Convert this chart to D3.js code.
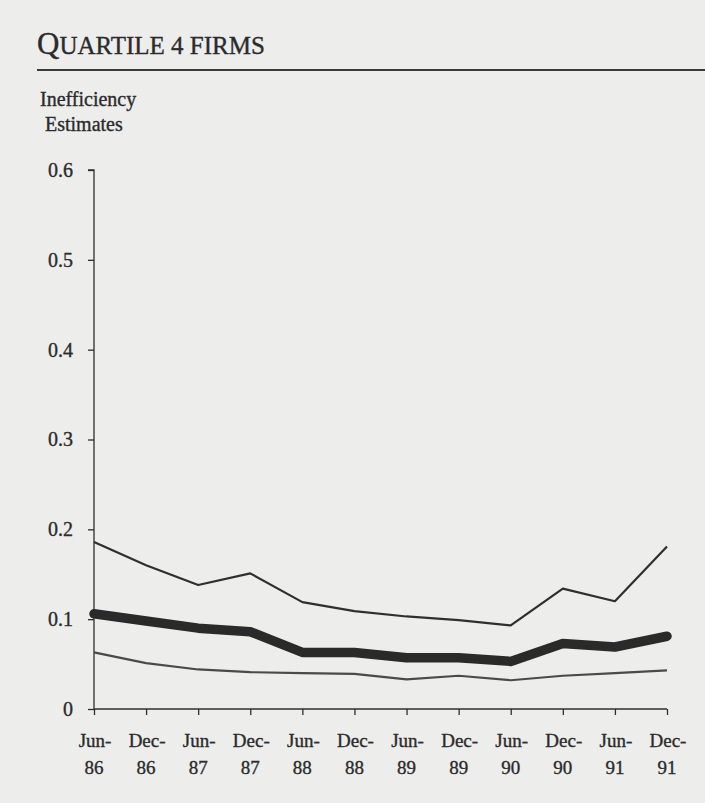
<!DOCTYPE html>
<html>
<head>
<meta charset="utf-8">
<script src="https://cdn.jsdelivr.net/npm/d3@7"></script>
<style>
  html, body { margin: 0; padding: 0; background: #ededeb; }
  svg { display: block; }
  text { font-family: "Liberation Serif", "Times New Roman", serif; fill: #2b2b2b; stroke: #2b2b2b; stroke-width: 0.35px; }
</style>
</head>
<body>
<svg id="chart" width="705" height="803"></svg>
<script>
// Half-year periods, Jun-86 through Dec-91
const periodMonths = ["Jun-", "Dec-", "Jun-", "Dec-", "Jun-", "Dec-", "Jun-", "Dec-", "Jun-", "Dec-", "Jun-", "Dec-"];
const periodYears  = ["86", "86", "87", "87", "88", "88", "89", "89", "90", "90", "91", "91"];

// Inefficiency estimates for quartile 4 firms
const upperBand = [0.186, 0.160, 0.138, 0.151, 0.119, 0.109, 0.103, 0.099, 0.093, 0.134, 0.120, 0.181];
const estimate  = [0.106, 0.098, 0.090, 0.086, 0.063, 0.063, 0.057, 0.057, 0.053, 0.073, 0.069, 0.081];
const lowerBand = [0.063, 0.051, 0.044, 0.041, 0.040, 0.039, 0.033, 0.037, 0.032, 0.037, 0.040, 0.043];

const yTicks = [0, 0.1, 0.2, 0.3, 0.4, 0.5, 0.6];

const svg = d3.select("#chart");
const ink = "#2f2f2f";

// Title with small-caps styling
const title = svg.append("text").attr("x", 37).attr("y", 54);
title.append("tspan").attr("font-size", 31).text("Q");
title.append("tspan").attr("font-size", 25).text("UARTILE 4 FIRMS");

svg.append("line")
  .attr("x1", 37).attr("x2", 705)
  .attr("y1", 70).attr("y2", 70)
  .attr("stroke", "#3a3a3a").attr("stroke-width", 2);

// Axis title
svg.append("text").attr("x", 40).attr("y", 106).attr("font-size", 20).text("Inefficiency");
svg.append("text").attr("x", 45).attr("y", 131).attr("font-size", 20).text("Estimates");

// Scales
const idx = d3.range(periodMonths.length);
const x = d3.scalePoint().domain(idx).range([94, 667]);
const y = d3.scaleLinear().domain([0, 0.6]).range([709, 170]);

// Y axis
const yAxis = svg.append("g")
  .attr("transform", "translate(94,0)")
  .call(d3.axisLeft(y).tickValues(yTicks).tickSize(6).tickPadding(15)
    .tickFormat(d => d === 0 ? "0" : d3.format(".1f")(d)));
yAxis.select(".domain").attr("stroke", ink).attr("stroke-width", 1.3).attr("d", `M-6,${y(0.6)}H0V${y(0)}`);
yAxis.selectAll(".tick line").attr("stroke", ink).attr("stroke-width", 1.3);
yAxis.selectAll(".tick text")
  .attr("font-family", "Liberation Serif, serif")
  .attr("font-size", 20).attr("fill", "#2b2b2b");

// X axis
const xAxis = svg.append("g")
  .attr("transform", `translate(0,${y(0)})`)
  .call(d3.axisBottom(x).tickSize(6).tickFormat(""));
xAxis.select(".domain").attr("stroke", ink).attr("stroke-width", 1.3).attr("d", `M${x(0)},0H${x(11)}`);
xAxis.selectAll(".tick line").attr("stroke", ink).attr("stroke-width", 1.3);

const xLabels = svg.append("g").attr("font-size", 19).attr("text-anchor", "middle");
xLabels.selectAll("text.m").data(idx).join("text")
  .attr("class", "m")
  .attr("x", i => x(i) + 1).attr("y", 747)
  .text(i => periodMonths[i]);
xLabels.selectAll("text.yr").data(idx).join("text")
  .attr("class", "yr")
  .attr("x", i => x(i)).attr("y", 774)
  .text(i => periodYears[i]);

// Series lines
const line = d3.line().x((d, i) => x(i)).y(d => y(d));

svg.append("path").datum(lowerBand)
  .attr("d", line).attr("fill", "none")
  .attr("stroke", "#4a4a4a").attr("stroke-width", 2.2)
  .attr("stroke-linejoin", "round");

svg.append("path").datum(upperBand)
  .attr("d", line).attr("fill", "none")
  .attr("stroke", "#2f2f2f").attr("stroke-width", 2.2)
  .attr("stroke-linejoin", "round");

svg.append("path").datum(estimate)
  .attr("d", line).attr("fill", "none")
  .attr("stroke", "#2a2a2a").attr("stroke-width", 9.5)
  .attr("stroke-linejoin", "round").attr("stroke-linecap", "round");
</script>
</body>
</html>
